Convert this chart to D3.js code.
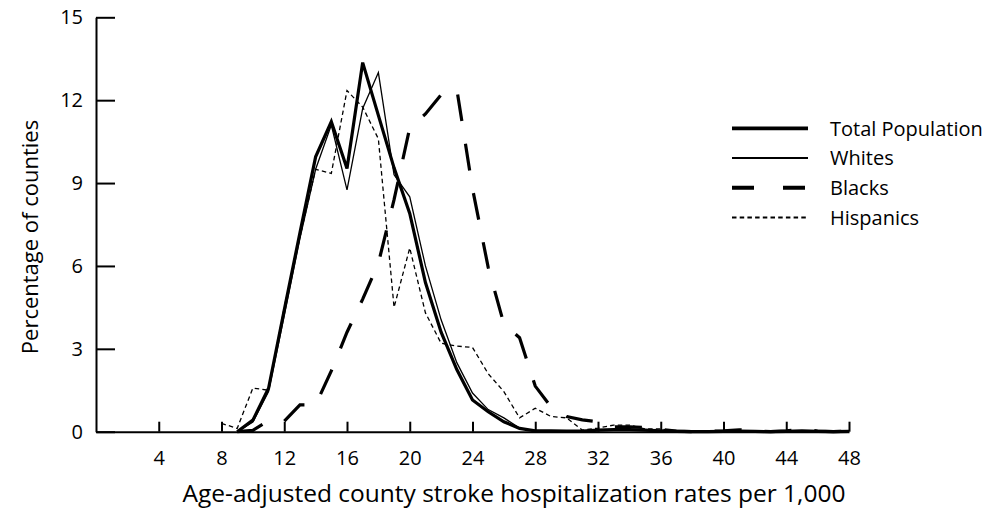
<!DOCTYPE html>
<html>
<head>
<meta charset="utf-8">
<script src="https://cdn.jsdelivr.net/npm/d3@7"></script>
<style>
  html, body { margin: 0; padding: 0; background: #fff; }
  svg { display: block; font-family: "Open Sans", sans-serif; }
</style>
</head>
<body>
<svg id="chart" width="990" height="508"></svg>
<script>
// Age-adjusted county stroke hospitalization rate (per 1,000), one point per integer rate
const rates = [8, 9, 10, 11, 12, 13, 14, 15, 16, 17, 18, 19, 20, 21, 22, 23, 24, 25, 26, 27, 28,
               29, 30, 31, 32, 33, 34, 35, 36, 37, 38, 39, 40, 41, 42, 43, 44, 45, 46, 47, 48];

// Percentage of counties at each rate
const totalPopulation = [null, 0, 0.42, 1.57, 4.4, 7.2, 9.95, 11.22, 9.53, 13.36, 11.45, 9.55, 7.9, 5.4, 3.6, 2.25, 1.15, 0.72, 0.36, 0.12, 0.03,
                         0.03, 0.02, 0.02, 0.06, 0.08, 0.08, 0.06, 0.03, 0.01, 0, 0, 0.01, 0.02, 0.01, 0, 0.01, 0.03, 0.01, 0, 0.01];
const whites = [null, 0, 0.35, 1.45, 4.2, 7.0, 9.5, 11.1, 8.75, 11.7, 13.0, 9.3, 8.5, 6.0, 4.05, 2.5, 1.4, 0.8, 0.5, 0.13, 0.02,
                0.02, 0.01, 0.01, 0.05, 0.06, 0.06, 0.05, 0.02, 0, 0, 0, 0, 0.01, 0, 0, 0, 0.02, 0, 0, 0];
const blacks = [null, 0, 0.05, 0.4, 0.38, 0.97, 0.97, 2.2, 3.6, 4.8, 6.1, 8.4, 11.0, 11.5, 12.2, 12.4, 8.8, 5.95, 3.9, 3.4, 1.65,
                0.9, 0.55, 0.43, 0.36, 0.18, 0.18, 0.15, 0.08, 0.02, 0, 0.01, 0.03, 0.07, 0.03, 0, 0.03, 0.1, 0.02, 0, 0.03];
const hispanics = [0.3, 0.12, 1.58, 1.5, 4.5, 7.05, 9.5, 9.35, 12.35, 11.75, 10.6, 4.5, 6.65, 4.3, 3.2, 3.1, 3.05, 2.1, 1.45, 0.5, 0.85,
                   0.55, 0.5, 0.06, 0.13, 0.24, 0.24, 0.1, 0.1, 0, 0, 0, 0, 0, 0, 0, 0, 0, 0, 0, 0];

const xTicks = [4, 8, 12, 16, 20, 24, 28, 32, 36, 40, 44, 48];
const yTicks = [0, 3, 6, 9, 12, 15];
const seriesNames = ["Total Population", "Whites", "Blacks", "Hispanics"];
const xTitle = "Age-adjusted county stroke hospitalization rates per 1,000";
const yTitle = "Percentage of counties";

// Line appearance for each group
const lineStyle = {
  "Total Population": { width: 3.2, dash: null, legendDash: null },
  "Whites":           { width: 1.3, dash: null, legendDash: null },
  "Blacks":           { width: 3.2, dash: "27,23", legendDash: "22,29" },
  "Hispanics":        { width: 1.3, dash: "4.5,3.2", legendDash: "4.5,3.2" }
};

const seriesValues = {
  "Total Population": totalPopulation,
  "Whites": whites,
  "Blacks": blacks,
  "Hispanics": hispanics
};

const svg = d3.select("#chart");
const x = d3.scaleLinear().domain([0, 48]).range([96, 849]);
const y = d3.scaleLinear().domain([0, 15]).range([431.7, 17.3]);

// Axes: ticks point into the plot
const xAxis = d3.axisBottom(x).tickValues(xTicks).tickSize(-10).tickSizeOuter(0).tickPadding(19);
const yAxis = d3.axisLeft(y).tickValues(yTicks).tickSize(-19).tickSizeOuter(0).tickPadding(13);

const gx = svg.append("g").attr("transform", `translate(0,${y(0)})`).call(xAxis);
const gy = svg.append("g").attr("transform", `translate(${x(0)},0)`).call(yAxis);

[gx, gy].forEach(g => {
  g.selectAll("path.domain").attr("stroke", "#000").attr("stroke-width", 2);
  g.selectAll(".tick line").attr("stroke", "#000").attr("stroke-width", 2);
  g.selectAll(".tick text").attr("fill", "#000").style("font-size", "20px")
    .style("font-family", '"Open Sans", sans-serif');
});

// Series lines
const line = d3.line()
  .defined(d => d.v !== null)
  .x(d => x(d.r))
  .y(d => y(d.v));

const drawOrder = ["Hispanics", "Blacks", "Whites", "Total Population"];
drawOrder.forEach(name => {
  const pts = rates.map((r, i) => ({ r, v: seriesValues[name][i] }));
  const st = lineStyle[name];
  svg.append("path")
    .datum(pts)
    .attr("fill", "none")
    .attr("stroke", "#000")
    .attr("stroke-width", st.width)
    .attr("stroke-linejoin", "miter")
    .attr("stroke-dasharray", st.dash)
    .attr("d", line);
});

// Axis titles
svg.append("text")
  .attr("x", 514).attr("y", 502)
  .attr("text-anchor", "middle")
  .style("font-size", "24.5px")
  .text(xTitle);

svg.append("text")
  .attr("transform", "translate(38,237) rotate(-90)")
  .attr("text-anchor", "middle")
  .style("font-size", "22px")
  .text(yTitle);

// Legend
const legend = svg.append("g");
const legendY = d3.scalePoint().domain(seriesNames).range([128.3, 217.5]);
seriesNames.forEach(name => {
  const st = lineStyle[name];
  const ly = legendY(name);
  legend.append("line")
    .attr("x1", 732).attr("x2", 808)
    .attr("y1", ly).attr("y2", ly)
    .attr("stroke", "#000")
    .attr("stroke-width", st.width + 0.6)
    .attr("stroke-dasharray", st.legendDash);
  legend.append("text")
    .attr("x", 830).attr("y", ly).attr("dy", "0.36em")
    .style("font-size", "20px")
    .text(name);
});
</script>
</body>
</html>
